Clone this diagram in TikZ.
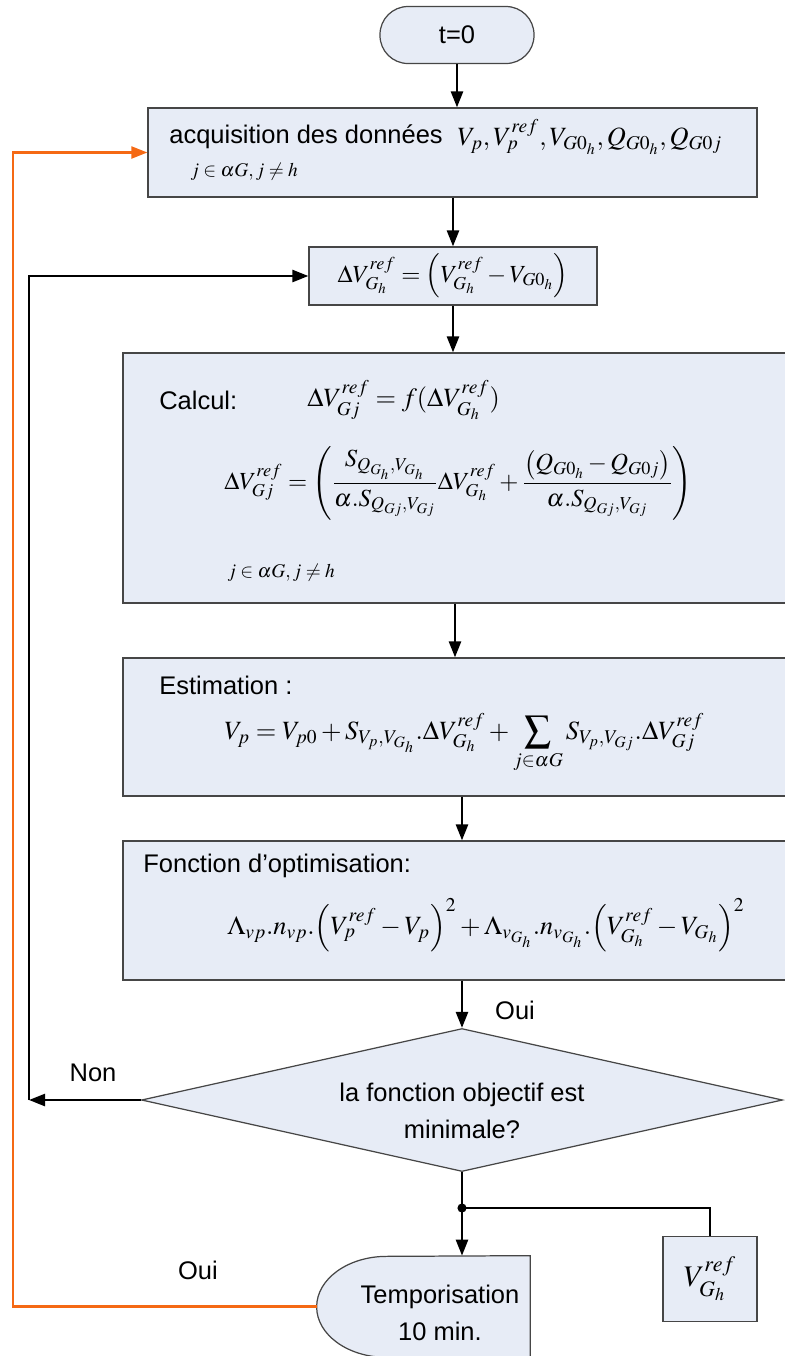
\documentclass[tikz,border=0pt]{standalone}
\usepackage{amsmath}
\usepackage{mathptmx}
\usepackage[no-math]{fontspec}
\setmainfont{Liberation Sans}
\usepackage{tikz}
\usetikzlibrary{arrows.meta,shapes.geometric,backgrounds}
\definecolor{boxfill}{RGB}{231,236,246}
\definecolor{boxline}{RGB}{70,70,70}
\definecolor{loopline}{RGB}{245,105,20}

\begin{document}
\begin{tikzpicture}[
  font=\fontsize{14.5}{21}\selectfont,
  box/.style={draw=boxline, fill=boxfill, line width=0.7pt, inner sep=0pt},
  lbl/.style={anchor=west, inner sep=0pt},
  formula/.style={inner sep=0pt, font=\fontsize{15}{18}\selectfont},
  idx/.style={anchor=west, inner sep=0pt, font=\fontsize{11}{13}\selectfont},
  link/.style={line width=1.4pt},
  arr/.style={-{Triangle[length=3.2mm, width=2.4mm]}, line width=1.4pt},
  looparr/.style={-{Triangle[length=3.2mm, width=2.4mm]}, line width=1.2pt, draw=loopline, color=loopline}
]
\useasboundingbox (0,0) rectangle (15.7,-27.12);

% start and data acquisition
\node[box, rounded corners=5.6mm, minimum width=3.08cm, minimum height=1.14cm] (start) at (9.14,-0.70) {t=0};
\node[box, minimum width=12.18cm, minimum height=1.78cm] (acq) at (9.05,-3.05) {};
\node[lbl] (acqtxt) at (3.38,-2.74) {acquisition des données};
\node[formula, anchor=west] (acqmath) at (9.14,-2.74) {$V_p, V_p^{ref}, V_{G0_h}, Q_{G0_h}, Q_{G0j}$};
\node[idx] (acqidx) at (3.80,-3.44) {$j \in \alpha G, j \neq h$};

% reference deviation
\node[box, formula, font=\fontsize{14}{17}\selectfont, minimum width=5.76cm, minimum height=1.16cm] (delta) at (9.06,-5.52)
  {$\Delta V_{G_h}^{ref} = \left(V_{G_h}^{ref} - V_{G0_h}\right)$};

% computation block
\node[box, minimum width=13.28cm, minimum height=5.0cm] (calc) at (9.10,-9.56) {};
\node[lbl] (calctxt) at (3.18,-8.0) {Calcul:};
\node[formula, anchor=west] (calcf) at (6.14,-8.0) {$\Delta V_{Gj}^{ref} = f(\Delta V_{G_h}^{ref})$};
\node[formula, anchor=west, font=\fontsize{14}{17}\selectfont] (calcg) at (4.48,-9.66)
  {$\displaystyle \Delta V_{Gj}^{ref} = \left( \frac{S_{Q_{G_h},V_{G_h}}}{\alpha.S_{Q_{Gj},V_{Gj}}} \Delta V_{G_h}^{ref}
   + \frac{\left(Q_{G0_h} - Q_{G0j}\right)}{\alpha.S_{Q_{Gj},V_{Gj}}} \right)$};
\node[idx] (calcidx) at (4.54,-11.46) {$j \in \alpha G, j \neq h$};

% estimation block
\node[box, minimum width=13.28cm, minimum height=2.76cm] (est) at (9.10,-14.54) {};
\node[lbl] (esttxt) at (3.18,-13.70) {Estimation :};
\node[formula, anchor=west] (estf) at (4.48,-14.86)
  {$\displaystyle V_p = V_{p0} + S_{V_p,V_{G_h}}.\Delta V_{G_h}^{ref} + \sum_{j \in \alpha G} S_{V_p,V_{Gj}}.\Delta V_{Gj}^{ref}$};

% objective function block
\node[box, minimum width=13.28cm, minimum height=2.78cm] (fonc) at (9.10,-18.21) {};
\node[lbl] (fonctxt) at (2.86,-17.32) {Fonction d’optimisation:};
\node[formula, anchor=west] (foncf) at (4.54,-18.50)
  {$\Lambda_{vp}.n_{vp}.\Bigl(V_p^{ref} - V_p\Bigr)^2 + \Lambda_{v_{G_h}}.n_{v_{G_h}}.\Bigl(V_{G_h}^{ref} - V_{G_h}\Bigr)^2$};

% decision
\node[box, diamond, minimum width=12.82cm, minimum height=2.86cm] (test) at (9.24,-22.0) {};
\node[align=center, inner sep=0pt] (testtxt) at (9.24,-22.22) {la fonction objectif est\\minimale?};

% outputs
\coordinate (split) at (9.24,-24.16);
\node[box, formula, font=\fontsize{17}{20}\selectfont, minimum width=1.88cm, minimum height=1.70cm] (vref) at (14.2,-25.58) {$V_{G_h}^{ref}$};
\node[minimum width=4.26cm, minimum height=2.02cm, inner sep=0pt] (temp) at (8.47,-26.13) {};
\begin{scope}[on background layer]
\draw[box] (temp.north east) -- (temp.south east) -- ([xshift=1.4cm]temp.south west)
  arc[start angle=270, end angle=90, x radius=1.4cm, y radius=1.01cm] -- cycle;
\end{scope}
\node[align=center, inner sep=0pt] (temptxt) at (8.8,-26.26) {Temporisation\\10 min.};

% labels
\node (oui) at (10.3,-20.2) {Oui};
\node (non) at (1.86,-21.46) {Non};
\node (ouiloop) at (3.96,-25.4) {Oui};

% connectors
\draw[arr] (start.south) -- (start.south |- acq.north);
\draw[arr] (delta.north |- acq.south) -- (delta.north);
\draw[arr] (delta.south) -- (delta.south |- calc.north);
\draw[arr] (calc.south) -- (est.north);
\draw[arr] (test.north |- est.south) -- (test.north |- fonc.north);
\draw[arr] (test.north |- fonc.south) -- (test.north);
\coordinate (nonpt) at (0.58,-22.0);
\draw[arr] (test.west) -- (nonpt);
\draw[arr] (nonpt) |- (delta.west);
\draw[link] (test.south) -- (split);
\fill (split) circle (2.6pt);
\draw[arr] (split) -- (split |- temp.north);
\draw[link] (split) -| (vref.north);
\coordinate (loopx) at (0.26,0);
\draw[looparr] (temp.west) -- (temp.west -| loopx) |- (acq.west);
\end{tikzpicture}
\end{document}
